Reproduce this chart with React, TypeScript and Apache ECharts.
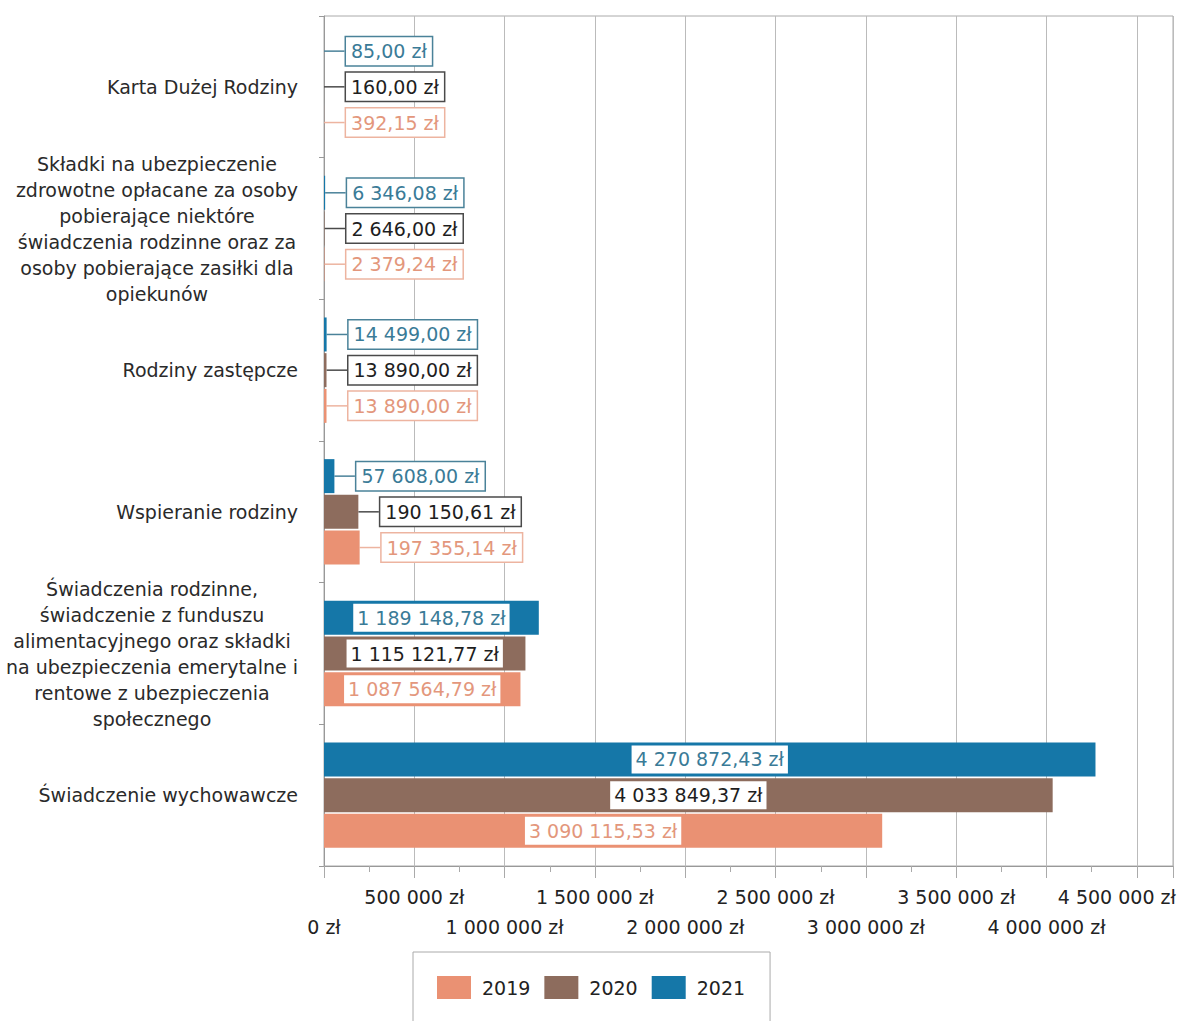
import React, { useEffect, useRef } from 'react';
import * as echarts from 'echarts';

const categories = [
  'Karta Dużej Rodziny',
  'Składki na ubezpieczenie\nzdrowotne opłacane za osoby\npobierające niektóre\nświadczenia rodzinne oraz za\nosoby pobierające zasiłki dla\nopiekunów',
  'Rodziny zastępcze',
  'Wspieranie rodziny',
  'Świadczenia rodzinne,\nświadczenie z funduszu\nalimentacyjnego oraz składki\nna ubezpieczenia emerytalne i\nrentowe z ubezpieczenia\nspołecznego',
  'Świadczenie wychowawcze',
];

const years = ['2019', '2020', '2021'];

const values2019 = [392.15, 2379.24, 13890.0, 197355.14, 1087564.79, 3090115.53];
const values2020 = [160.0, 2646.0, 13890.0, 190150.61, 1115121.77, 4033849.37];
const values2021 = [85.0, 6346.08, 14499.0, 57608.0, 1189148.78, 4270872.43];

const axisMin = 0;
const axisMax = 4700000;
const axisStep = 500000;
const lastLabelValue = 4500000;

const FONT = 'DejaVu Sans';
const INSIDE_MIN = 500000;

function fmtPln(v: number, decimals: boolean): string {
  const fixed = v.toFixed(decimals ? 2 : 0);
  const parts = fixed.split('.');
  const intS = parts[0].replace(/\B(?=(\d{3})+(?!\d))/g, ' ');
  return (parts[1] ? intS + ',' + parts[1] : intS) + ' zł';
}

function makeSeries(
  name: string,
  values: number[],
  color: string,
  textColor: string,
  borderColor: string
) {
  return {
    name,
    type: 'bar',
    barWidth: 34,
    barGap: '5%',
    itemStyle: { color },
    data: values.map((v) =>
      v >= INSIDE_MIN
        ? {
            value: v,
            label: {
              position: 'inside',
              backgroundColor: '#fff',
              borderWidth: 0,
              padding: [3, 4],
            },
            labelLine: { show: false },
          }
        : { value: v }
    ),
    label: {
      show: true,
      position: 'right',
      distance: 2,
      formatter: (p: any) => fmtPln(p.value, true),
      fontFamily: FONT,
      fontSize: 19,
      lineHeight: 22,
      color: textColor,
      backgroundColor: '#fff',
      borderColor,
      borderWidth: 1.5,
      padding: [3, 5],
    },
    labelLine: { show: true, lineStyle: { color: borderColor, width: 1.5 } },
    labelLayout: (params: any) =>
      values[params.dataIndex] < INSIDE_MIN ? { dx: 20 } : {},
  };
}

export default function App() {
  const ref = useRef<HTMLDivElement>(null);

  useEffect(() => {
    if (!ref.current) return;
    const chart = echarts.init(ref.current, undefined, { renderer: 'svg' });
    chart.setOption({
      animation: false,
      backgroundColor: '#fff',
      textStyle: { fontFamily: FONT },
      grid: {
        left: 324,
        right: 6,
        top: 16,
        bottom: 155,
        show: true,
        borderColor: '#aaa',
        borderWidth: 1,
        outerBoundsMode: 'none',
        containLabel: false,
      },
      legend: {
        data: years,
        left: 413,
        top: 952,
        padding: [24, 25, 24, 24],
        itemWidth: 34,
        itemHeight: 23,
        itemGap: 14,
        icon: 'rect',
        borderColor: '#aaa',
        borderWidth: 1,
        textStyle: { fontSize: 19, color: '#222', fontFamily: FONT, padding: [0, 0, 0, 6] },
      },
      xAxis: {
        type: 'value',
        min: axisMin,
        max: axisMax,
        interval: axisStep,
        axisLine: { show: true, lineStyle: { color: '#999' } },
        axisTick: { show: true, length: 12, lineStyle: { color: '#aaa' } },
        minorTick: { show: true, splitNumber: 2, length: 6, lineStyle: { color: '#aaa' } },
        splitLine: { show: true, lineStyle: { color: '#bbb' } },
        axisLabel: {
          margin: 16,
          fontSize: 19,
          lineHeight: 30,
          color: '#222',
          fontFamily: FONT,
          formatter: (v: number) => {
            if (v % axisStep !== 0) return '';
            const k = Math.round(v / axisStep);
            const s = fmtPln(v, false);
            if (v === lastLabelValue) return `{r|${s}}`;
            return k % 2 === 0 ? '\n' + s : s;
          },
          rich: {
            r: {
              fontSize: 19,
              lineHeight: 30,
              color: '#222',
              fontFamily: FONT,
              padding: [0, 40, 0, 0],
            },
          },
        },
      },
      yAxis: {
        type: 'category',
        inverse: true,
        data: categories,
        axisLine: { show: true, lineStyle: { color: '#999' } },
        axisTick: { show: true, length: 5, lineStyle: { color: '#999' } },
        axisLabel: {
          margin: 26,
          formatter: (v: string) =>
            v
              .split('\n')
              .map((l) => `{c|${l}}`)
              .join('\n'),
          rich: {
            c: {
              align: 'center',
              fontSize: 19,
              lineHeight: 26,
              color: '#2a2a2a',
              fontFamily: FONT,
            },
          },
        },
      },
      series: [
        makeSeries('2021', values2021, '#1577A8', '#3A7B97', '#4A8299'),
        makeSeries('2020', values2020, '#8D6C5D', '#1E1E1E', '#4A4A4A'),
        makeSeries('2019', values2019, '#EA9173', '#E3977C', '#EDB4A0'),
      ],
    });
    return () => chart.dispose();
  }, []);

  return (
    <div
      ref={ref}
      style={{ position: 'absolute', left: 0, top: 0, width: 1179, height: 1021, background: '#fff' }}
    />
  );
}
